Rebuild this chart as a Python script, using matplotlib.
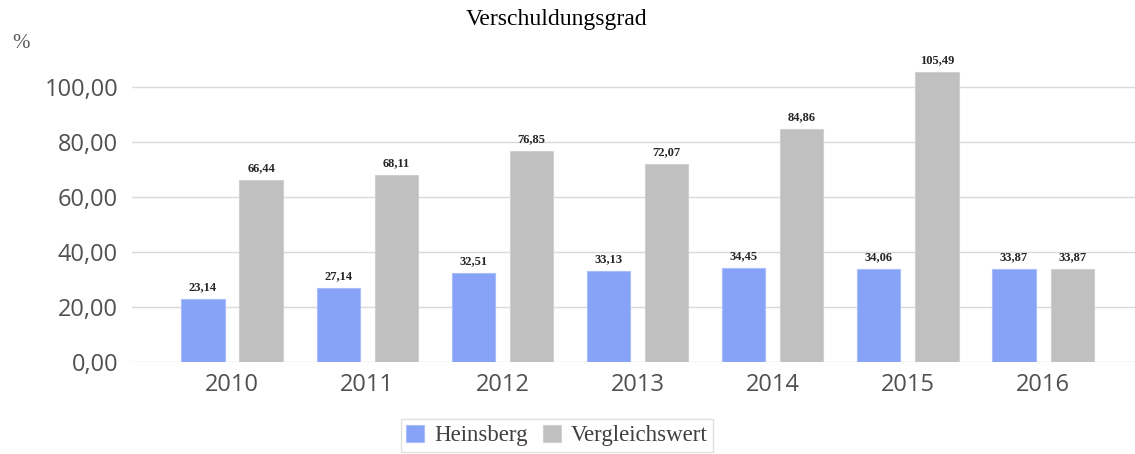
import matplotlib
matplotlib.use('Agg')
import matplotlib.pyplot as plt
import numpy as np
from matplotlib.ticker import FuncFormatter

years = ['2010', '2011', '2012', '2013', '2014', '2015', '2016']
heinsberg = [23.14, 27.14, 32.51, 33.13, 34.45, 34.06, 33.87]
vergleich = [66.44, 68.11, 76.85, 72.07, 84.86, 105.49, 33.87]

def de(v):
    return f'{v:.2f}'.replace('.', ',')

fig = plt.figure(figsize=(11.35, 4.54), dpi=100)
ax = fig.add_axes([132 / 1135, 1 - 362.3 / 454, 1003 / 1135, 302.5 / 454])

x = np.arange(len(years))
w = 0.32
off = 0.215
b1 = ax.bar(x - off, heinsberg, w, color='#87a3f8', edgecolor='#a9bdfa', linewidth=0.8,
            label='Heinsberg', zorder=3)
b2 = ax.bar(x + off, vergleich, w, color='#c0c0c0', edgecolor='#d0d0d0', linewidth=0.8,
            label='Vergleichswert', zorder=3)

# value labels
for bars, vals in [(b1, heinsberg), (b2, vergleich)]:
    for rect, v in zip(bars, vals):
        ax.annotate(de(v), (rect.get_x() + rect.get_width() / 2, v),
                    xytext=(0, 4), textcoords='offset points',
                    ha='center', va='bottom', fontsize=9, fontweight='bold',
                    family='Liberation Serif', color='#262626')

ax.set_xlim(-0.74, 6.68)
ax.set_ylim(0, 110)
ax.set_yticks([0, 20, 40, 60, 80, 100])
ax.yaxis.set_major_formatter(FuncFormatter(lambda v, p: de(v)))
ax.set_xticks(x)
ax.set_xticklabels(years)
ax.grid(axis='y', color='#d9d9d9', linewidth=1, zorder=0)
for s in ax.spines.values():
    s.set_visible(False)
ax.tick_params(length=0, labelsize=17, labelcolor='#505050')
for t in ax.get_xticklabels() + ax.get_yticklabels():
    t.set_family('Open Sans')
ax.tick_params(axis='y', pad=10)
ax.tick_params(axis='x', pad=8)

fig.text(557 / 1135, 1 - 19 / 454, 'Verschuldungsgrad', ha='center', va='center',
         family='Liberation Serif', fontsize=17, color='#000000')
fig.text(21 / 1135, 1 - 43 / 454, '%', ha='center', va='center',
         family='Liberation Serif', fontsize=15, color='#595959')

leg = fig.legend(loc='upper center', bbox_to_anchor=(557 / 1135, 1 - 419 / 454), ncol=2,
                 prop={'family': 'Liberation Serif', 'size': 16.5}, frameon=True,
                 fancybox=False, handlelength=0.75, handleheight=0.75, handletextpad=0.45,
                 columnspacing=0.7, borderpad=0.25, borderaxespad=0)
leg.get_frame().set_edgecolor('#d9d9d9')
leg.get_frame().set_linewidth(1)
for t in leg.get_texts():
    t.set_color('#404040')

fig.savefig('out.png', dpi=100)
